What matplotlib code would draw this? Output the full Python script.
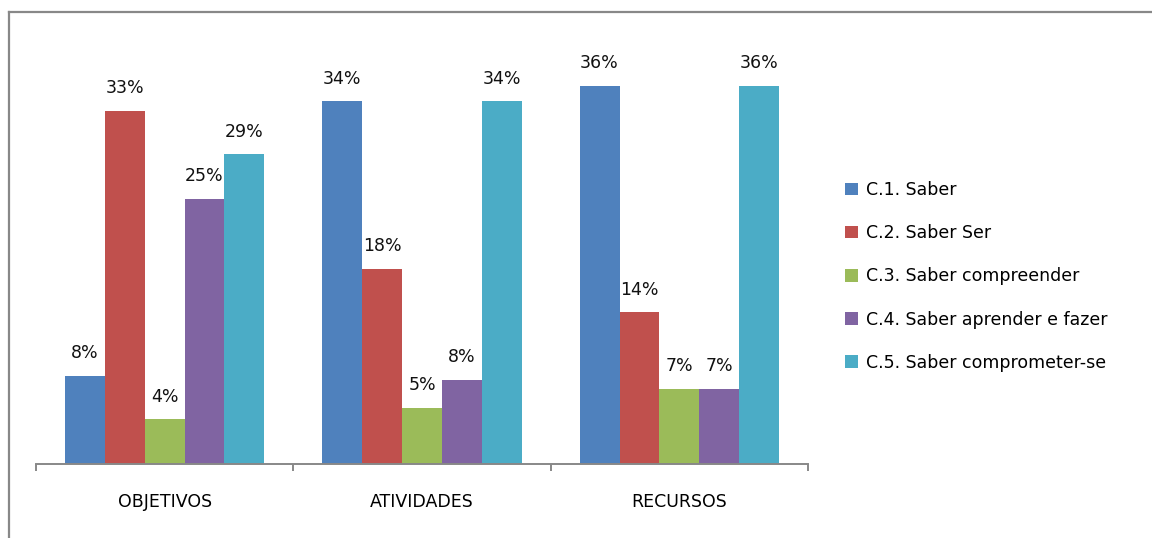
import matplotlib.pyplot as plt
from matplotlib.lines import Line2D
from matplotlib.patches import Patch
import numpy as np

categories = ["OBJETIVOS", "ATIVIDADES", "RECURSOS"]
series = [
    "C.1. Saber",
    "C.2. Saber Ser",
    "C.3. Saber compreender",
    "C.4. Saber aprender e fazer",
    "C.5. Saber comprometer-se",
]
# percentages (labels show them rounded)
values = [
    [8.3, 34.2, 35.7],   # C.1
    [33.3, 18.4, 14.3],  # C.2
    [4.2, 5.3, 7.1],     # C.3
    [25.0, 7.9, 7.1],    # C.4
    [29.2, 34.2, 35.7],  # C.5
]
colors = ["#4F81BD", "#C0504D", "#9BBB59", "#8064A2", "#4BACC6"]


def main():
    plt.rcParams["font.family"] = ["DejaVu Sans"]
    fig = plt.figure(figsize=(11.52, 5.38), dpi=100)
    ax = fig.add_axes([36 / 1152, 74 / 538, 772 / 1152, 424 / 538])

    x = np.arange(len(categories))
    width = 0.155
    for i, (name, vals, col) in enumerate(zip(series, values, colors)):
        pos = x + (i - 2) * width
        ax.bar(pos, vals, width=width, color=col, label=name)
        for px, v in zip(pos, vals):
            ax.annotate(f"{v:.0f}%", (px, v), xytext=(0, 16.5), textcoords="offset points",
                        ha="center", va="center", fontsize=12.5, color="#111111")

    ax.set_xlim(-0.5, 2.5)
    ax.set_ylim(0, 40)
    ax.set_yticks([])
    for side in ("left", "right", "top"):
        ax.spines[side].set_visible(False)
    ax.spines["bottom"].set_color("#888888")
    ax.spines["bottom"].set_linewidth(1.4)

    ax.set_xticks(x)
    ax.set_xticklabels(categories, fontsize=12.5)
    ax.tick_params(axis="x", which="major", length=0, pad=21)
    ax.set_xticks([-0.5, 0.5, 1.5, 2.5], minor=True)
    ax.tick_params(axis="x", which="minor", length=5, width=1.4, color="#888888")

    handles = [Patch(facecolor=c, label=s) for s, c in zip(series, colors)]
    fig.legend(handles=handles, loc="upper left", bbox_to_anchor=(845 / 1152, 1 - 181 / 538),
               frameon=False, fontsize=12.5, handlelength=0.75, handleheight=0.75,
               handletextpad=0.45, labelspacing=1.45, borderaxespad=0, borderpad=0)

    # outer frame (only left and top edges visible)
    fig.add_artist(Line2D([9 / 1152, 9 / 1152], [0, 1 - 12 / 538], color="#888888", linewidth=1.6,
                          transform=fig.transFigure))
    fig.add_artist(Line2D([9 / 1152, 1], [1 - 12 / 538, 1 - 12 / 538], color="#888888", linewidth=1.6,
                          transform=fig.transFigure))

    fig.savefig("out.png", dpi=100)


if __name__ == "__main__":
    main()
